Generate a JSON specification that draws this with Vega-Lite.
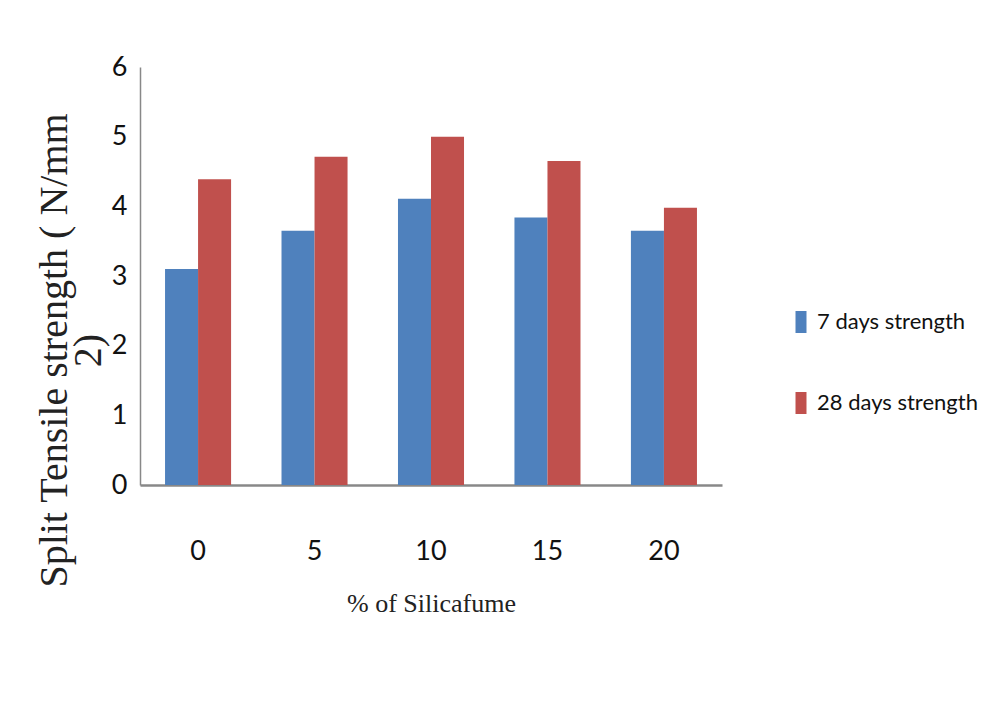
{
  "$schema": "https://vega.github.io/schema/vega-lite/v6.json",
  "width": 582,
  "height": 418,
  "autosize": "none",
  "padding": {"left": 140, "top": 67, "right": 265, "bottom": 226},
  "background": "white",
  "data": {
    "values": [
      {"silica": 0, "series": "7 days strength", "strength": 3.10},
      {"silica": 0, "series": "28 days strength", "strength": 4.39},
      {"silica": 5, "series": "7 days strength", "strength": 3.65},
      {"silica": 5, "series": "28 days strength", "strength": 4.71},
      {"silica": 10, "series": "7 days strength", "strength": 4.11},
      {"silica": 10, "series": "28 days strength", "strength": 5.00},
      {"silica": 15, "series": "7 days strength", "strength": 3.84},
      {"silica": 15, "series": "28 days strength", "strength": 4.65},
      {"silica": 20, "series": "7 days strength", "strength": 3.65},
      {"silica": 20, "series": "28 days strength", "strength": 3.98}
    ]
  },
  "config": {
    "view": {"stroke": null},
    "axis": {"labelFont": "Lato", "titleFont": "Liberation Serif", "labelColor": "#111", "titleColor": "#222", "titleFontWeight": "normal"}
  },
  "mark": {"type": "bar"},
  "encoding": {
    "x": {
      "field": "silica",
      "type": "ordinal",
      "sort": [0, 5, 10, 15, 20],
      "scale": {"paddingInner": 0.433, "paddingOuter": 0.215},
      "axis": {
        "title": "% of Silicafume",
        "titleFontSize": 26,
        "titlePadding": 26,
        "labelAngle": 0,
        "labelFontSize": 27,
        "labelPadding": 53,
        "ticks": false,
        "domainColor": "#888888",
        "domainWidth": 2.5,
        "grid": false
      }
    },
    "xOffset": {"field": "series", "sort": ["7 days strength", "28 days strength"]},
    "y": {
      "field": "strength",
      "type": "quantitative",
      "scale": {"domain": [0, 6]},
      "axis": {
        "title": ["Split Tensile strength ( N/mm", "2)"],
        "titleFontSize": 40,
        "titleLineHeight": 34,
        "titleAngle": -90,
        "titleX": -106,
        "titleY": 283,
        "titleAlign": "center",
        "titleBaseline": "top",
        "labelFontSize": 27,
        "labelPadding": 13,
        "labelOverlap": false,
        "values": [0, 1, 2, 3, 4, 5, 6],
        "ticks": false,
        "grid": false,
        "domainColor": "#888888",
        "domainWidth": 1.5
      }
    },
    "color": {
      "field": "series",
      "type": "nominal",
      "sort": ["7 days strength", "28 days strength"],
      "scale": {"domain": ["7 days strength", "28 days strength"], "range": ["#4F81BD", "#C0504D"]},
      "legend": {
        "title": null,
        "orient": "none",
        "legendX": 650,
        "legendY": 244,
        "symbolType": "M-0.5,-1H0.5V1H-0.5Z",
        "symbolSize": 484,
        "symbolStrokeWidth": 0,
        "labelFont": "Lato",
        "labelFontSize": 22,
        "labelLimit": 0,
        "labelColor": "#111",
        "labelOffset": 5,
        "rowPadding": 59
      }
    }
  }
}
